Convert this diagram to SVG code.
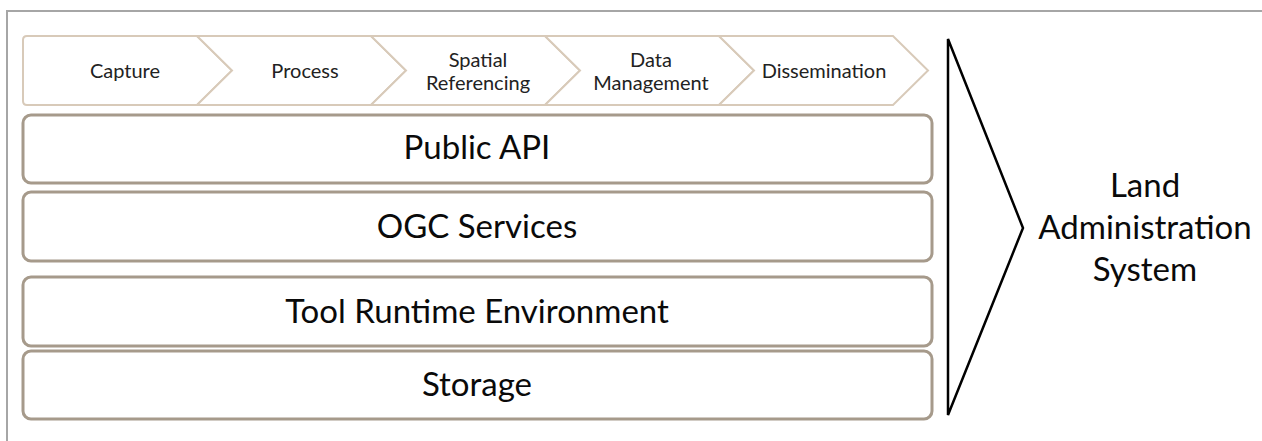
<svg xmlns="http://www.w3.org/2000/svg" width="1262" height="441" viewBox="0 0 1262 441">
<style>
  .frame { fill: #ffffff; stroke: #a6a6a6; stroke-width: 2; }
  .chev { fill: #ffffff; stroke: #d8cab9; stroke-width: 2; stroke-linejoin: miter; }
  .layer { fill: #ffffff; stroke: #a69a8b; stroke-width: 3; }
  .tri { fill: #ffffff; stroke: #000000; stroke-width: 2.5; stroke-linejoin: miter; }
  .ct { font-family: Lato, "Liberation Sans", sans-serif; font-size: 20px; fill: #222222; text-anchor: middle; }
  .lt { font-family: Lato, "Liberation Sans", sans-serif; font-size: 33px; fill: #0a0a0a; text-anchor: middle; }
  .st { font-family: Lato, "Liberation Sans", sans-serif; font-size: 33px; fill: #0a0a0a; text-anchor: middle; }
</style>
<rect class="frame" x="7" y="11" width="1262" height="440"/>
<g id="chevrons">
  <g id="capture">
    <path class="chev" d="M27,36 L197,36 L232,70.5 L197,105 L27,105 Q23,105 23,101 L23,40 Q23,36 27,36 Z"/>
    <text class="ct" x="125" y="78">Capture</text>
  </g>
  <g id="process">
    <path class="chev" d="M197,36 L371,36 L406,70.5 L371,105 L197,105 L232,70.5 Z"/>
    <text class="ct" x="305" y="78">Process</text>
  </g>
  <g id="spatial">
    <path class="chev" d="M371,36 L545,36 L580,70.5 L545,105 L371,105 L406,70.5 Z"/>
    <text class="ct" x="478" y="67">Spatial</text>
    <text class="ct" x="478" y="90">Referencing</text>
  </g>
  <g id="datamgmt">
    <path class="chev" d="M545,36 L719,36 L754,70.5 L719,105 L545,105 L580,70.5 Z"/>
    <text class="ct" x="651" y="67">Data</text>
    <text class="ct" x="651" y="90">Management</text>
  </g>
  <g id="dissemination">
    <path class="chev" d="M719,36 L893,36 L928,70.5 L893,105 L719,105 L754,70.5 Z"/>
    <text class="ct" x="824" y="78">Dissemination</text>
  </g>
</g>
<g id="public-api">
  <rect class="layer" x="23" y="115" width="909" height="68" rx="8"/>
  <text class="lt" x="477" y="159">Public API</text>
</g>
<g id="ogc-services">
  <rect class="layer" x="23" y="192" width="909" height="69" rx="8"/>
  <text class="lt" x="477" y="238">OGC Services</text>
</g>
<g id="tool-runtime">
  <rect class="layer" x="23" y="277" width="909" height="69" rx="8"/>
  <text class="lt" x="477" y="323">Tool Runtime Environment</text>
</g>
<g id="storage">
  <rect class="layer" x="23" y="351" width="909" height="68" rx="8"/>
  <text class="lt" x="477" y="396">Storage</text>
</g>
<g id="land-admin">
  <polygon class="tri" points="948,39 1023,228 948,415"/>
  <text class="st" x="1145" y="197">Land</text>
  <text class="st" x="1145" y="239">Administration</text>
  <text class="st" x="1145" y="281">System</text>
</g>
<g id="connectors"></g>
</svg>
